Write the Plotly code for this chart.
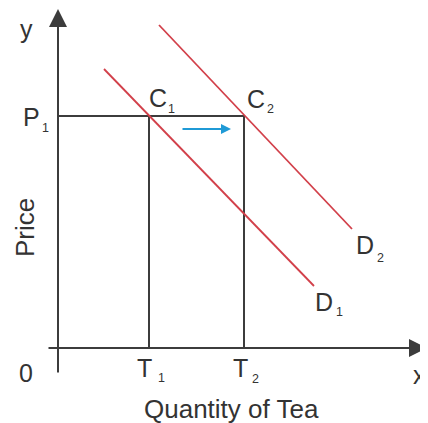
import plotly.graph_objects as go

# demand schedule (quantity units, price units)
d1_qty = [4.6, 25.6]
d1_price = [27.9, 6.2]
d2_qty = [10.1, 29.4]
d2_price = [32.3, 11.9]

# equilibrium points
p1 = 23.2
t_qty = [9.1, 18.6]

axis_x = [-1.1, 36.9]
axis_y = [-2.6, 33.9]

INK = "#3c3c3c"
RED = "#d2404a"
BLUE = "#1f9ad6"
FONT = "Liberation Sans, Arial, sans-serif"

fig = go.Figure()

# guide lines from equilibrium points down to the axes
for t in t_qty:
    fig.add_trace(go.Scatter(x=[t, t], y=[0, p1], mode="lines",
                             line=dict(color=INK, width=2), hoverinfo="skip"))
fig.add_trace(go.Scatter(x=[0, t_qty[1]], y=[p1, p1], mode="lines",
                         line=dict(color=INK, width=2), hoverinfo="skip"))

# demand curves
fig.add_trace(go.Scatter(x=d1_qty, y=d1_price, mode="lines",
                         line=dict(color=RED, width=1.8), hoverinfo="skip"))
fig.add_trace(go.Scatter(x=d2_qty, y=d2_price, mode="lines",
                         line=dict(color=RED, width=1.8), hoverinfo="skip"))


def arrow(x, y, ax, ay, color, width, size):
    fig.add_annotation(x=x, y=y, ax=ax, ay=ay, xref="x", yref="y",
                       axref="x", ayref="y", text="", showarrow=True,
                       arrowhead=2, arrowsize=size, arrowwidth=width,
                       arrowcolor=color, standoff=0)


# axes
arrow(axis_x[1], 0, axis_x[0], 0, INK, 2, 1.8)
arrow(0, axis_y[1], 0, axis_y[0], INK, 2, 1.8)

# shift of demand
arrow(t_qty[1] - 1.3, p1 - 1.3, t_qty[0] + 3.2, p1 - 1.3, BLUE, 2, 1.0)


def text(x, y, s, dx, dy, size=25, angle=0, anchor="center"):
    fig.add_annotation(x=x, y=y, xref="x", yref="y", text=s, showarrow=False,
                       xanchor=anchor, yanchor="middle", xshift=dx, yshift=dy,
                       textangle=angle, font=dict(family=FONT, size=size, color="#333333"))


def label(x, y, main, sub, dx, dy, sdx, sdy):
    text(x, y, main, dx, dy)
    text(x, y, sub, sdx, sdy, size=12.5)


text(0, axis_y[1], "y", -32, -20)
text(axis_x[1], 0, "x", -8, -27)
text(0, 0, "0", -32, -25.4)
label(0, p1, "P", "1", -26.5, -1.4, -12.5, -11.7)
label(t_qty[0], p1, "C", "1", 8.5, 17.6, 22.5, 7.3)
label(t_qty[1], p1, "C", "2", 11.5, 16.6, 26, 7.3)
label(d2_qty[1], d2_price[1], "D", "2", 13, -16.4, 28, -28.7)
label(d1_qty[1], d1_price[1], "D", "1", 10, -16.4, 25, -25.7)
label(t_qty[0], 0, "T", "1", -4.5, -20.4, 12, -29.7)
label(t_qty[1], 0, "T", "2", -3.5, -20.4, 11, -30.7)
text(0, p1 / 2, "Price", -33, 4, size=26, angle=-90)
text((t_qty[0] + t_qty[1]) / 2, 0, "Quantity of Tea", 34.5, -60.5, size=26)

# the page adds an 8px body margin, so the figure is 8px smaller on each side
fig.update_layout(
    width=420, height=415,
    margin=dict(l=0, r=0, t=0, b=0),
    paper_bgcolor="white", plot_bgcolor="white",
    showlegend=False,
    xaxis=dict(range=[-5.0, 37.0], visible=False, fixedrange=True),
    yaxis=dict(range=[-7.5, 34.0], visible=False, fixedrange=True),
)

fig.write_html("out.html")
